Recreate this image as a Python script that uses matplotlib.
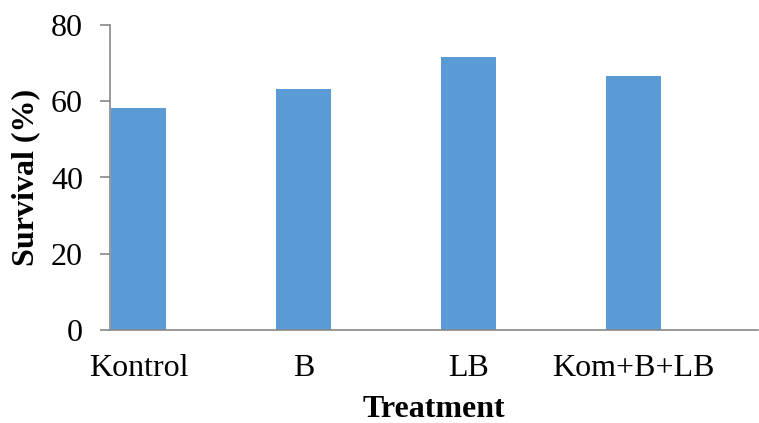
import matplotlib
matplotlib.use("Agg")
import matplotlib.pyplot as plt

categories = ["Kontrol", "B", "LB", "Kom+B+LB"]
survival = [58.3, 63.3, 71.7, 66.7]
yticks = [0, 20, 40, 60, 80]

plt.rcParams['font.family'] = ['Liberation Serif', 'DejaVu Serif']

fig = plt.figure(figsize=(7.59, 4.23), dpi=100)
ax = fig.add_axes([110/759, 1-330/423, (758-110)/759, (330-25)/423])

x = list(range(len(categories)))
ax.bar(x, survival, width=55/165, color="#5B9BD5")
ax.set_xlim(-0.173, 3.755)
ax.set_ylim(0, 80)
ax.set_yticks(yticks)
ax.set_yticklabels([str(v) for v in yticks], fontsize=23)
ax.set_xticks(x)
ax.set_xticklabels(categories, fontsize=23)
ax.tick_params(axis='x', length=0, pad=17)
ax.tick_params(axis='y', length=7.5, color='#888888', width=1.2, pad=12)
for s in ['top', 'right']:
    ax.spines[s].set_visible(False)
for s in ['left', 'bottom']:
    ax.spines[s].set_color('#888888')
    ax.spines[s].set_linewidth(1.2)
ax.set_xlabel("Treatment", fontsize=23, fontweight='bold', labelpad=9)
ax.set_ylabel("Survival (%)", fontsize=23, fontweight='bold', labelpad=8)

fig.savefig("out.png", dpi=100)
